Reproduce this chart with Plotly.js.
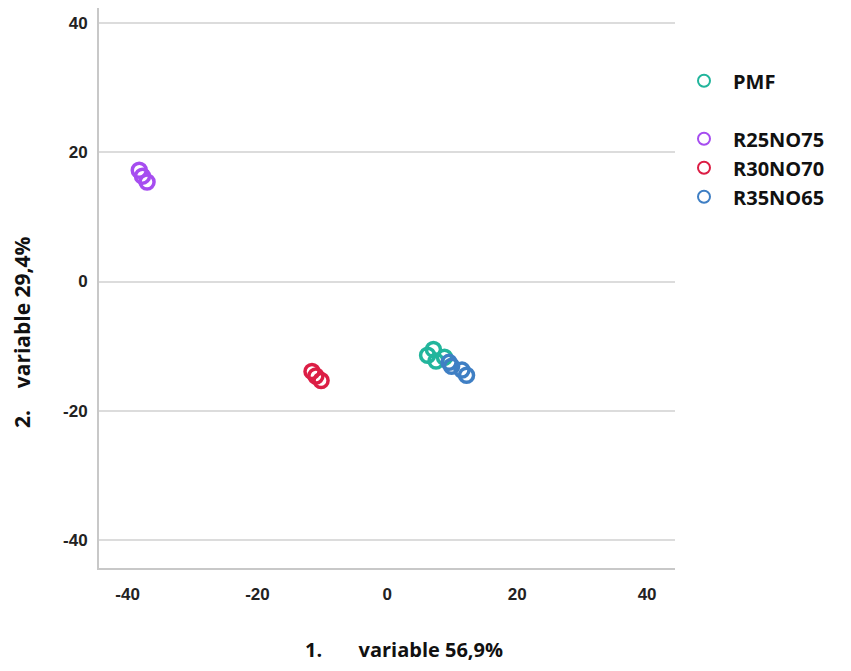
<!DOCTYPE html>
<html><head><meta charset="utf-8">
<script src="https://cdn.plot.ly/plotly-3.0.1.min.js"></script>
<style>body{margin:0;background:#fff}#c{width:851px;height:671px}</style>
</head><body><div id="c"></div>
<script>
const seriesNames = ["PMF", "R25NO75", "R30NO70", "R35NO65"];
const seriesColors = ["#22b59c", "#a64df0", "#dc1e45", "#3f7fc4"];
const pmfX = [6.2, 7.1, 7.5, 8.8];
const pmfY = [-11.4, -10.5, -12.3, -11.7];
const r25X = [-38.2, -37.7, -37.0];
const r25Y = [17.2, 16.3, 15.4];
const r30X = [-11.6, -11.0, -10.2];
const r30Y = [-13.9, -14.6, -15.3];
const r35X = [9.5, 9.9, 11.5, 12.2];
const r35Y = [-12.5, -13.1, -13.7, -14.5];
const tickVals = [-40, -20, 0, 20, 40];
const tickText = ["-40", "-20", "0", "20", "40"];
const xTitle = "1.&nbsp;&nbsp;&nbsp;&nbsp;&nbsp;&nbsp; variable 56,9%";
const yTitle = "2.&nbsp;&nbsp;&nbsp; variable 29,4%";

const xs = [pmfX, r25X, r30X, r35X];
const ys = [pmfY, r25Y, r30Y, r35Y];
const traces = seriesNames.map((n, i) => ({
  type: "scatter", mode: "markers", name: n,
  x: xs[i], y: ys[i],
  legendgroup: i === 0 ? "g1" : "g2",
  marker: {symbol: "circle-open", size: 14, color: seriesColors[i], line: {width: 3.5, color: seriesColors[i]}}
}));

const axisCommon = {
  showline: true, linecolor: "#c8c8c8", linewidth: 2, mirror: false,
  zeroline: false, tickvals: tickVals, ticktext: tickText, ticks: "",
  tickfont: {family: "Liberation Sans, Arial, sans-serif", size: 17, color: "#222", weight: "bold"},
  fixedrange: true
};

const layout = {
  width: 851, height: 671,
  margin: {l: 99, r: 176, t: 8, b: 103},
  paper_bgcolor: "#fff", plot_bgcolor: "#fff",
  showlegend: true,
  xaxis: Object.assign({}, axisCommon, {range: [-44.4, 44.3], showgrid: false, ticklabelstandoff: 10}),
  yaxis: Object.assign({}, axisCommon, {range: [-44.3, 42.3], showgrid: true, gridcolor: "#dcdcdc", gridwidth: 2, ticklabelstandoff: 6}),
  legend: {
    x: 1.0, xanchor: "left", y: 0.905, yanchor: "top",
    font: {family: "Open Sans, sans-serif", size: 20, color: "#111", weight: "bold"},
    tracegroupgap: 29, itemsizing: "constant", itemwidth: 48,
    bgcolor: "rgba(0,0,0,0)"
  },
  annotations: [
    {text: xTitle, xref: "paper", yref: "paper", x: 0.53, y: -0.145, xanchor: "center", yanchor: "middle",
     showarrow: false, font: {family: "Open Sans, sans-serif", size: 20, color: "#111", weight: "bold"}},
    {text: yTitle, xref: "paper", yref: "paper", x: -0.134, y: 0.421, xanchor: "center", yanchor: "middle",
     textangle: -90, showarrow: false, font: {family: "Open Sans, sans-serif", size: 21, color: "#111", weight: "bold"}}
  ]
};
Plotly.newPlot("c", traces, layout, {displayModeBar: false, staticPlot: true});
</script></body></html>
